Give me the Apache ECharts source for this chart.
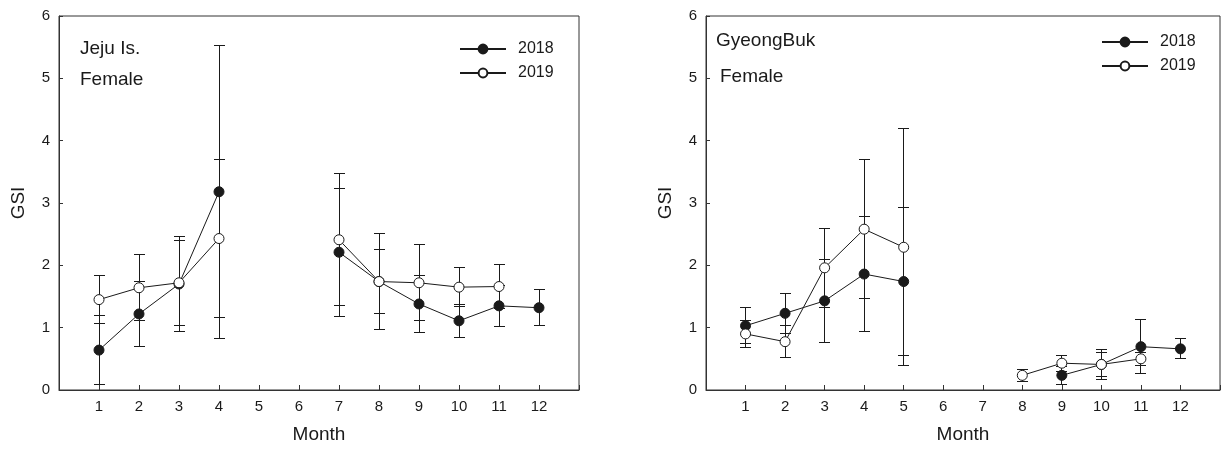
<!DOCTYPE html>
<html><head><meta charset="utf-8">
<script src="https://cdn.jsdelivr.net/npm/echarts@6/dist/echarts.min.js"></script>
<style>html,body{margin:0;padding:0;background:#fff}#c{width:1223px;height:450px}</style>
</head><body><div id="c"></div><script>
const months = [1,2,3,4,5,6,7,8,9,10,11,12];
const monthLabels = ['1','2','3','4','5','6','7','8','9','10','11','12'];
const yTickLabels = ['0','1','2','3','4','5','6'];
const legendNames = ['2018','2019'];

// Jeju Is. Female
const jeju2018 = [0.64,1.22,1.70,3.18,null,null,2.21,1.74,1.38,1.11,1.35,1.32];
const jeju2018Err = [0.55,0.52,0.76,2.35,null,null,1.03,0.77,0.45,0.26,0.33,0.29];
const jeju2019 = [1.45,1.64,1.72,2.43,null,null,2.41,1.74,1.72,1.65,1.66,null];
const jeju2019Err = [0.38,0.53,0.68,1.26,null,null,1.06,0.51,0.61,0.31,0.36,null];

// GyeongBuk Female
const gb2018 = [1.03,1.23,1.43,1.86,1.74,null,null,null,0.235,0.41,0.695,0.66];
const gb2018Err = [0.29,0.32,0.67,0.92,1.18,null,null,null,0.15,0.24,0.43,0.16];
const gb2019 = [0.90,0.775,1.96,2.58,2.29,null,null,0.235,0.43,0.41,0.50,null];
const gb2019Err = [0.22,0.26,0.63,1.11,1.90,null,null,0.10,0.13,0.19,0.10,null];

const INK = '#1a1a1a';
const AX = '#333';
const FONT = 'Liberation Sans, Arial, Helvetica, sans-serif';

function lineData(vals){ return months.map((m,i)=>[m, vals[i]==null ? '-' : vals[i]]); }
function errData(vals, errs){
  return months.map((m,i)=> vals[i]==null ? null : [m, vals[i]-errs[i], vals[i]+errs[i]]).filter(Boolean);
}
function crisp(v){ return Math.round(v - 0.5) + 0.5; }
function errRender(params, api){
  const x = api.value(0), lo = api.value(1), hi = api.value(2);
  const pLo = api.coord([x, lo]), pHi = api.coord([x, hi]);
  const cx = crisp(pLo[0]), yl = crisp(pLo[1]), yh = crisp(pHi[1]);
  const hw = 5.5;
  const style = {stroke: INK, lineWidth: 1, fill: null};
  return {type:'group', children:[
    {type:'line', shape:{x1:cx,y1:yl,x2:cx,y2:yh}, style},
    {type:'line', shape:{x1:cx-hw,y1:yl,x2:cx+hw,y2:yl}, style},
    {type:'line', shape:{x1:cx-hw,y1:yh,x2:cx+hw,y2:yh}, style}
  ]};
}

function xAxisCfg(gi){
  return {
    type:'value', gridIndex:gi, min:0, max:13, interval:1,
    axisLine:{show:true, lineStyle:{color:AX, width:1}},
    axisTick:{show:true, inside:true, length:5, lineStyle:{color:AX}},
    axisLabel:{fontSize:15, color:'#1a1a1a', fontFamily:FONT, margin:9,
      formatter: v => (v>=1 && v<=12) ? monthLabels[v-1] : ''},
    splitLine:{show:false},
    name:'Month', nameLocation:'middle', nameGap:35,
    nameTextStyle:{fontSize:19, color:'#1a1a1a', fontFamily:FONT}
  };
}
function yAxisCfg(gi){
  return {
    type:'value', gridIndex:gi, min:0, max:6, interval:1,
    axisLine:{show:true, lineStyle:{color:AX, width:1}},
    axisTick:{show:true, inside:true, length:4, lineStyle:{color:AX}},
    axisLabel:{fontSize:15, color:'#1a1a1a', fontFamily:FONT, margin:9,
      formatter: v => yTickLabels[v]},
    splitLine:{show:false},
    name:'GSI', nameLocation:'middle', nameGap:31, nameRotate:90,
    nameTextStyle:{fontSize:19, color:'#1a1a1a', fontFamily:FONT}
  };
}
function lineSeries(name, gi, vals, open){
  return {
    name, type:'line', xAxisIndex:gi, yAxisIndex:gi, data:lineData(vals),
    symbol:'circle', symbolSize:10, showAllSymbol:true, connectNulls:false,
    lineStyle:{color:INK, width:1},
    itemStyle: open ? {color:'#fff', borderColor:INK, borderWidth:1} : {color:INK, borderColor:INK, borderWidth:1},
    z:3, animation:false
  };
}
function errSeries(name, gi, vals, errs){
  return {
    name, type:'custom', xAxisIndex:gi, yAxisIndex:gi,
    data:errData(vals, errs), renderItem:errRender,
    encode:{x:0, y:[1,2]}, z:2, animation:false, silent:true
  };
}
function legendCfg(left, top){
  return {
    data:legendNames, orient:'vertical', left, top, padding:0,
    itemWidth:46, itemHeight:11, itemGap:6,
    textStyle:{fontSize:16, color:'#1a1a1a', fontFamily:FONT, lineHeight:18, padding:[0,0,0,7]},
    selectedMode:false
  };
}
function titleCfg(text, left, top){
  return {text, left, top, padding:0,
    textStyle:{fontSize:19, fontWeight:'normal', color:'#1a1a1a', fontFamily:FONT, lineHeight:22}};
}

const chart = echarts.init(document.getElementById('c'), null, {renderer:'canvas'});
chart.setOption({
  animation:false,
  backgroundColor:'#fff',
  title:[
    titleCfg('Jeju Is.', 80, 38),
    titleCfg('Female', 80, 69),
    titleCfg('GyeongBuk', 716, 30),
    titleCfg('Female', 720, 66)
  ],
  legend:[legendCfg(459, 40), legendCfg(1101, 33)],
  grid:[
    {left:59, top:16, width:520, height:374, show:true, borderColor:AX, borderWidth:1, backgroundColor:'transparent'},
    {left:706, top:16, width:520, height:374, show:true, borderColor:AX, borderWidth:1, backgroundColor:'transparent'}
  ],
  xAxis:[xAxisCfg(0), xAxisCfg(1)],
  yAxis:[yAxisCfg(0), yAxisCfg(1)],
  series:[
    errSeries('jeju2018sd', 0, jeju2018, jeju2018Err),
    errSeries('jeju2019sd', 0, jeju2019, jeju2019Err),
    lineSeries('2018', 0, jeju2018, false),
    lineSeries('2019', 0, jeju2019, true),
    errSeries('gb2018sd', 1, gb2018, gb2018Err),
    errSeries('gb2019sd', 1, gb2019, gb2019Err),
    lineSeries('2018', 1, gb2018, false),
    lineSeries('2019', 1, gb2019, true)
  ]
});
</script></body></html>
